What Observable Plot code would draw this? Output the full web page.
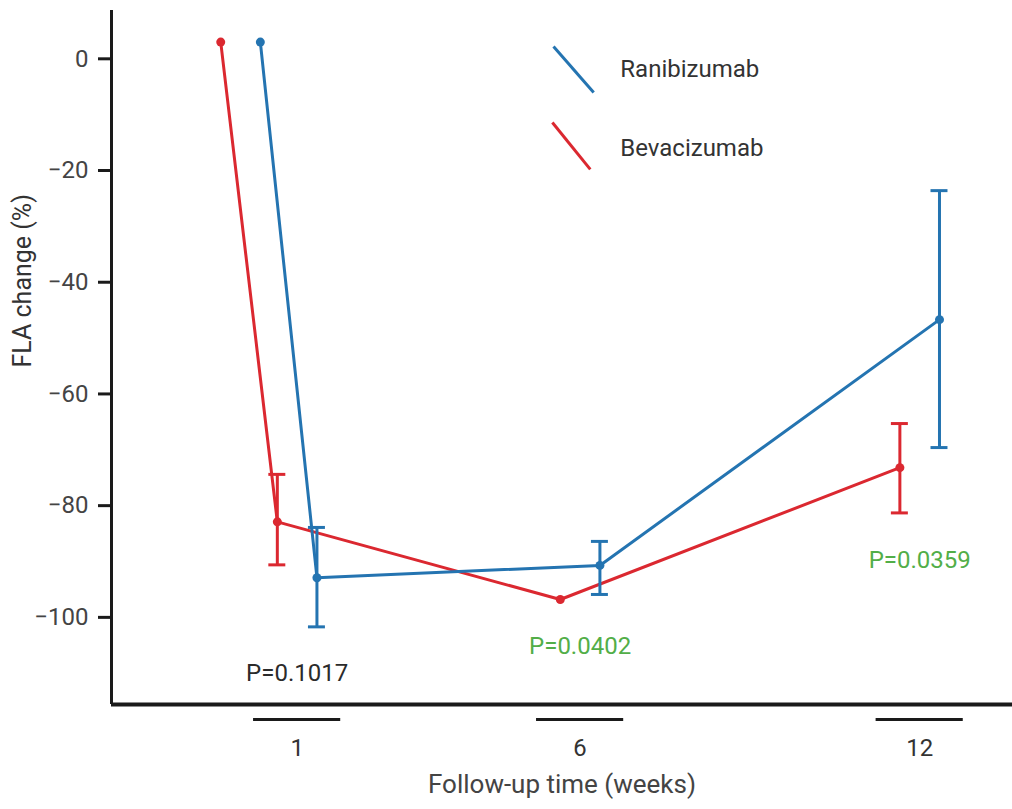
<!DOCTYPE html>
<html>
<head>
<meta charset="utf-8">
<script src="https://cdn.jsdelivr.net/npm/d3@7"></script>
<script src="https://cdn.jsdelivr.net/npm/@observablehq/plot@0.6"></script>
<style>
  html, body { margin: 0; padding: 0; background: #fff; }
  #chart svg { display: block; }
</style>
</head>
<body>
<div id="chart"></div>
<script>
// ---- data ----
const weeks = [0, 1, 6, 12];
const xTicks = [1, 6, 12];
const yTicks = [0, -20, -40, -60, -80, -100];
const seriesNames = ["Ranibizumab", "Bevacizumab"];
const seriesColors = ["#2474b1", "#db2830"];
const seriesOffsets = [0.35, -0.35];

const ranibizumabMean = [3, -92.9, -90.7, -46.7];
const ranibizumabLow  = [null, -101.7, -95.9, -69.6];
const ranibizumabHigh = [null, -83.9, -86.4, -23.6];

const bevacizumabMean = [3, -82.9, -96.8, -73.2];
const bevacizumabLow  = [null, -90.6, null, -81.3];
const bevacizumabHigh = [null, -74.4, null, -65.3];

const pLabels = ["P=0.1017", "P=0.0402", "P=0.0359"];
const pWeeks = [1, 6, 12];
const pY = [-110.1, -105.1, -89.8];
const pColors = ["#2b2b2b", "#52ae48", "#52ae48"];

const xLabel = "Follow-up time (weeks)";
const yLabel = "FLA change (%)";

// ---- build table ----
const means = [ranibizumabMean, bevacizumabMean];
const lows = [ranibizumabLow, bevacizumabLow];
const highs = [ranibizumabHigh, bevacizumabHigh];
const rows = [];
seriesNames.forEach((name, s) => {
  weeks.forEach((w, i) => {
    rows.push({series: name, week: w, x: w + seriesOffsets[s], y: means[s][i], lo: lows[s][i], hi: highs[s][i], color: seriesColors[s]});
  });
});
// draw red below blue
const order = ["Bevacizumab", "Ranibizumab"];
const bars = rows.filter(d => d.lo != null);
const caps = bars.flatMap(d => [{...d, yc: d.lo}, {...d, yc: d.hi}]);

const xDomain = [-2.28, 13.64];
const yDomain = [-115.6, 8.65];
const font = "Roboto, 'DejaVu Sans', sans-serif";

const legend = [
  {name: "Ranibizumab", color: seriesColors[0], x1: 5.53, y1: 2.2, x2: 6.24, y2: -6.05, tx: 6.71, ty: -1.9},
  {name: "Bevacizumab", color: seriesColors[1], x1: 5.51, y1: -11.4, x2: 6.18, y2: -19.8, tx: 6.71, ty: -16.1}
];

const marks = [
  Plot.ruleX([xDomain[0]], {stroke: "#1a1a1a", strokeWidth: 3}),
  Plot.ruleY([yDomain[0]], {stroke: "#1a1a1a", strokeWidth: 4}),
  Plot.axisY({ticks: yTicks, tickSize: 13, tickPadding: 10, fontSize: 24, stroke: "#1a1a1a", strokeWidth: 3, color: "#444", label: null, tickFormat: d => d === 0 ? "0" : "\u2212" + Math.abs(d)}),
  Plot.axisX({ticks: xTicks, tickSize: 0, tickPadding: 34, fontSize: 24, color: "#333", label: null}),
  Plot.ruleY(xTicks, {x1: d => d - 0.77, x2: d => d + 0.77, y: () => yDomain[0], dy: 15, stroke: "#1a1a1a", strokeWidth: 3}),
  Plot.text([xLabel], {frameAnchor: "bottom", dy: 88, fontSize: 26, fill: "#444", fontFamily: font}),
  Plot.text([yLabel], {frameAnchor: "left", dx: -89, dy: 10, rotate: -90, fontSize: 25, fill: "#333", fontFamily: font})
];

order.forEach(name => {
  const r = rows.filter(d => d.series === name);
  const color = r[0].color;
  marks.push(
    Plot.line(r, {x: "x", y: "y", stroke: color, strokeWidth: 3}),
    Plot.ruleX(bars.filter(d => d.series === name), {x: "x", y1: "lo", y2: "hi", stroke: color, strokeWidth: 3}),
    Plot.ruleY(caps.filter(d => d.series === name), {y: "yc", x1: d => d.x - 0.15, x2: d => d.x + 0.15, stroke: color, strokeWidth: 3}),
    Plot.dot(r, {x: "x", y: "y", r: 4.5, fill: color})
  );
});

marks.push(
  Plot.link(legend, {x1: "x1", y1: "y1", x2: "x2", y2: "y2", stroke: "color", strokeWidth: 3}),
  Plot.text(legend, {x: "tx", y: "ty", text: "name", textAnchor: "start", fontSize: 24, fill: "#333", fontFamily: font}),
  Plot.text(pLabels, {x: (d, i) => pWeeks[i], y: (d, i) => pY[i], text: d => d, fill: (d, i) => pColors[i], fontSize: 24, fontFamily: font})
);

const chart = Plot.plot({
  width: 1012,
  height: 809,
  marginLeft: 111,
  marginRight: 0,
  marginTop: 10,
  marginBottom: 105,
  style: {fontFamily: font, background: "#fff"},
  x: {domain: xDomain, axis: null},
  y: {domain: yDomain, axis: null},
  color: {type: "identity"},
  marks
});
document.getElementById("chart").appendChild(chart);
</script>
</body>
</html>
